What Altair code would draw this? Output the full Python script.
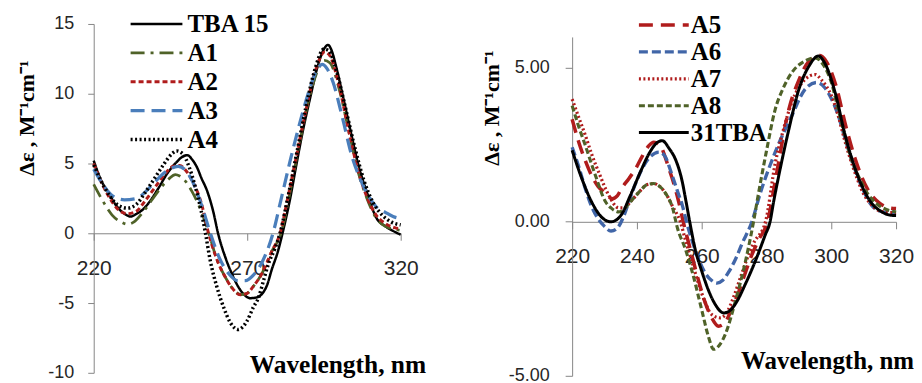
import altair as alt
import pandas as pd

# ---------------- Left panel data (TBA 15 series) ----------------
L_TBA15_WL = [220, 222, 225, 228, 230, 232, 234, 236, 238, 241, 244, 247, 249, 250.5, 252, 253.7, 255, 257, 259, 260.5,
              263, 265, 267, 269, 271, 273, 275, 276.5, 278, 280, 281.5, 284, 286, 288, 290.5, 293, 295, 296.3, 297.5,
              298.9, 301.3, 303.7, 306.2, 308.9, 312.1, 315, 317.5, 320]
L_TBA15_V = [5.2, 4.0, 2.8, 1.8, 1.4, 1.2, 1.4, 1.7, 2.2, 3.2, 4.3, 5.1, 5.5, 5.6, 5.3, 4.7, 4.0, 3.0, 1.5, 0.0,
             -1.8, -2.9, -3.8, -4.4, -4.65, -4.6, -4.3, -3.7, -2.6, -1.3, 0.0, 2.5, 4.9, 7.2, 9.7, 12.0, 13.2, 13.5, 13.1,
             12.0, 9.7, 7.3, 4.9, 3.0, 1.1, 0.5, 0.17, -0.1]

L_A1_WL = [220, 223, 226, 229, 231, 233, 236, 239, 242, 244.5, 246.6, 248, 250, 252, 255, 257.5, 260, 263, 265, 268,
           270, 272, 275, 278, 281, 284, 287, 290, 293, 295, 297, 300, 303, 306, 309, 312, 315, 318, 320]
L_A1_V = [3.5, 2.3, 1.3, 0.8, 0.65, 0.8, 1.5, 2.4, 3.3, 3.9, 4.2, 4.1, 3.7, 3.0, 1.6, 0.0, -1.8, -3.2, -3.9, -4.4,
          -4.3, -3.8, -2.8, -1.3, 0.0, 3.0, 6.4, 9.5, 11.7, 12.4, 12.2, 10.3, 7.4, 4.5, 2.5, 1.1, 0.5, 0.3, 0.2]

L_A2_WL = [220, 222, 225, 228, 231, 234, 237, 240, 243, 246, 248, 250, 252, 255, 257.4, 260, 263, 265, 267.7, 270,
           272, 275, 278, 280.7, 283, 286, 289, 292, 295.3, 297, 300, 303, 306, 309, 312, 315, 318, 320]
L_A2_V = [5.0, 3.9, 2.6, 1.7, 1.4, 1.6, 2.4, 3.3, 4.2, 4.8, 4.85, 4.5, 3.8, 2.2, 0.0, -1.8, -3.2, -3.9, -4.4, -4.3,
          -3.8, -2.8, -1.3, 0.0, 2.3, 5.5, 8.7, 11.5, 13.0, 12.7, 10.5, 7.4, 4.6, 2.6, 1.3, 0.7, 0.4, 0.3]

L_A3_WL = [220, 223, 226, 230, 234, 237, 240, 244, 247.5, 250, 252, 255, 258, 261, 264, 267, 269.4, 272, 275, 278.4,
           281, 284, 287, 290, 292.5, 294.4, 296, 298, 301, 304, 307, 310, 312, 315, 317.5, 320]
L_A3_V = [4.6, 3.5, 2.7, 2.4, 2.5, 3.0, 3.7, 4.5, 4.8, 4.5, 3.8, 2.1, 0.0, -1.8, -2.9, -3.4, -3.4, -3.0, -2.0, 0.0,
          2.4, 5.2, 7.8, 10.1, 11.6, 12.1, 11.8, 10.8, 8.3, 5.6, 3.8, 2.5, 1.9, 1.5, 1.2, 1.05]

L_A4_WL = [220, 224, 228, 231, 234, 237, 240, 243, 245.5, 247, 249, 251, 253, 255, 256.4, 258, 260.2, 262.3, 264.5, 267,
           269.9, 272, 273.7, 275.3, 276.9, 279.1, 280.7, 283, 286, 289, 292, 295, 296.5, 299, 302, 305, 308, 311, 314,
           317, 320]
L_A4_V = [4.9, 3.1, 2.0, 1.8, 2.1, 3.0, 4.0, 5.0, 5.7, 5.9, 5.7, 4.8, 3.4, 1.6, 0.0, -2.0, -3.9, -5.3, -6.4, -6.9,
          -6.3, -5.3, -4.6, -3.4, -2.2, -1.05, 0.0, 2.3, 5.6, 8.9, 11.7, 13.2, 13.1, 11.7, 9.0, 6.2, 3.8, 2.2, 1.3,
          0.8, 0.6]

# ---------------- Right panel data (31TBA series) ----------------
R_A5_WL = [220, 222, 224, 226, 228, 230, 232.4, 234, 235.2, 237.5, 239.6, 241.5, 243.7, 245.2, 247, 249.9, 251.5, 252.9,
           254.3, 257, 259, 261, 263, 265.2, 267, 269, 271, 273, 275, 277.5, 280.3, 283, 286.9, 290, 293, 296.5, 298.5,
           301.5, 304.5, 307.5, 311, 315, 318, 320]
R_A5_V = [3.33, 2.6, 2.0, 1.5, 1.15, 0.95, 0.75, 0.85, 1.07, 1.4, 1.72, 2.1, 2.47, 2.58, 2.5, 1.72, 1.2, 0.65,
          0.0, -1.1, -1.9, -2.6, -3.1, -3.39, -3.3, -2.9, -2.4, -1.8, -1.2, -0.6, 0.0, 1.5, 3.65, 4.6, 5.2, 5.4, 5.2,
          4.4, 3.1, 2.0, 1.1, 0.6, 0.45, 0.43]

R_A6_WL = [220, 222, 224, 226, 228, 230, 232, 234, 236, 238, 240, 242, 244, 246.8, 248.5, 250.9, 252.5, 254, 255.3,
           257, 259, 261, 263, 264.7, 266.5, 268.5, 270.5, 272.5, 275.5, 278, 282.7, 287.8, 291.9, 295.5, 298, 300,
           302, 304, 306, 308, 310, 312, 315, 318, 320]
R_A6_V = [2.42, 1.8, 1.1, 0.5, 0.1, -0.15, -0.3, -0.2, 0.2, 0.8, 1.35, 1.8, 2.1, 2.26, 2.15, 1.5, 1.0, 0.54, 0.0,
          -0.6, -1.2, -1.65, -1.9, -1.99, -1.9, -1.6, -1.2, -0.7, 0.0, 0.9, 2.26, 3.44, 4.3, 4.52, 4.35, 4.0,
          3.5, 2.8, 2.1, 1.5, 1.0, 0.6, 0.35, 0.3, 0.3]

R_A7_WL = [220, 222, 224.1, 226, 228.2, 231.3, 234.4, 236, 238, 241, 243, 245.2, 247, 249, 251, 253.4, 255, 257, 259,
           261, 263, 265.8, 268, 270, 272, 274, 276, 279.7, 282.7, 285, 287.8, 291.9, 295, 297, 300, 302, 304, 306,
           308, 310, 312, 315, 318, 320]
R_A7_V = [3.98, 3.4, 2.8, 2.2, 1.61, 0.86, 0.45, 0.45, 0.65, 1.0, 1.2, 1.24, 1.15, 0.9, 0.5, 0.0, -0.6, -1.3, -2.0,
          -2.6, -3.0, -3.12, -2.9, -2.4, -1.8, -1.2, -0.7, 0.0, 1.9, 2.9, 3.87, 4.62, 4.78, 4.6, 4.1, 3.5, 2.7, 2.0,
          1.4, 0.9, 0.6, 0.35, 0.3, 0.3]

R_A8_WL = [220, 222, 224.1, 227.2, 230.3, 232, 234.4, 236, 238, 241, 243, 245.2, 247, 249, 251, 252.5, 255, 257,
           260.1, 262, 263.7, 265.5, 267.3, 270.4, 273.5, 276, 277.5, 280, 282.7, 285, 287.8, 291.9, 295, 297.5,
           300.1, 302, 304.2, 306, 308.3, 311, 314.5, 317, 320]
R_A8_V = [3.77, 3.1, 2.47, 1.5, 0.65, 0.45, 0.32, 0.4, 0.65, 1.0, 1.2, 1.24, 1.15, 0.9, 0.45, -0.2, -0.9, -1.6,
          -2.9, -3.7, -4.14, -4.0, -3.65, -2.58, -1.29, 0.0, 0.9, 2.3, 3.65, 4.3, 4.84, 5.22, 5.32, 5.1,
          4.5, 3.7, 2.8, 2.1, 1.5, 0.95, 0.54, 0.4, 0.32]

R_TBA31_WL = [220, 223, 226, 229, 232, 235, 238, 241, 244, 246, 247.8, 250, 252, 254, 255, 256.3, 258, 260, 262, 264,
              266.8, 268.5, 270.9, 273.4, 276.5, 279.6, 281.1, 282.2, 283.8, 286.9, 290, 293.1, 296, 298, 301.2,
              304.3, 307.4, 311.5, 315.6, 318, 320]
R_TBA31_V = [2.32, 1.4, 0.65, 0.16, 0.0, 0.2, 0.86, 1.6, 2.26, 2.55, 2.63, 2.37, 2.0, 1.3, 0.75, 0.0, -0.9, -1.6,
             -2.2, -2.65, -2.96, -2.9, -2.58, -2.04, -1.29, -0.43, 0.0, 0.65, 1.5, 3.0, 4.3, 5.05, 5.38, 5.15, 4.19,
             2.8, 1.72, 0.75, 0.32, 0.22, 0.2]

LEFT_NAMES = ["TBA 15", "A1", "A2", "A3", "A4"]
LEFT_COLORS = ["#000000", "#4F6228", "#B01C1C", "#4A7EBB", "#000000"]
LEFT_DASH = [[1, 0], [14, 6, 3, 6], [5, 3], [14, 7], [2, 2.5]]
LEFT_WIDTH = [2.5, 3.5, 2.5, 2.5, 2.5]

RIGHT_NAMES = ["A5", "A6", "A7", "A8", "31TBA"]
RIGHT_COLORS = ["#B01C1C", "#4166A8", "#B01C1C", "#4F6228", "#000000"]
RIGHT_DASH = [[14, 8], [9, 4], [2, 2.5], [6, 3], [1, 0]]
RIGHT_WIDTH = [3.5, 3, 2, 2, 3]

LEFT_Y_TICKS = [-10, -5, 0, 5, 10, 15]
LEFT_X_TICKS = [220, 270, 320]
RIGHT_Y_TICKS = [-5, 0, 5]
RIGHT_X_TICKS = [220, 240, 260, 280, 300, 320]


def frame(items):
    rows = []
    for name, wls, vals in items:
        for a, b in zip(wls, vals):
            rows.append({"series": name, "wl": a, "v": b})
    return pd.DataFrame(rows)


left_df = frame([("TBA 15", L_TBA15_WL, L_TBA15_V), ("A1", L_A1_WL, L_A1_V), ("A2", L_A2_WL, L_A2_V),
                 ("A3", L_A3_WL, L_A3_V), ("A4", L_A4_WL, L_A4_V)])
right_df = frame([("A5", R_A5_WL, R_A5_V), ("A6", R_A6_WL, R_A6_V), ("A7", R_A7_WL, R_A7_V),
                  ("A8", R_A8_WL, R_A8_V), ("31TBA", R_TBA31_WL, R_TBA31_V)])

AXIS_GRAY = "#868686"
LABEL_COLOR = "#262626"
YTITLE = "Δε , M⁻¹cm⁻¹"


def legend(x, y, size, offset, rowpad):
    return alt.Legend(title=None, orient="none", legendX=x, legendY=y, symbolType="M-5,0H5",
                      symbolSize=size, symbolFillColor="transparent", labelFont="Liberation Serif",
                      labelFontWeight="bold", labelFontSize=25, labelColor="#000000", labelOffset=offset,
                      rowPadding=rowpad, padding=0, labelLimit=0)


def panel(df, names, colors, dashes, widths, w, h, yscale, yticks, ylab_expr, xticks, xoffset,
          ytx, yty, ytick, ypad, xtx, xty, xalign, xtsize, leg):
    return alt.Chart(df).mark_line(interpolate="monotone").encode(
        x=alt.X("wl:Q", scale=alt.Scale(domain=[220, 320], nice=False, zero=False),
                axis=alt.Axis(values=xticks, title="Wavelength, nm", offset=xoffset, grid=False,
                              labelFlush=False, labelFont="Liberation Sans", labelFontSize=21,
                              labelColor=LABEL_COLOR, labelPadding=17, tickSize=7,
                              tickColor=AXIS_GRAY, domainColor=AXIS_GRAY,
                              titleFont="Liberation Serif", titleFontWeight="bold", titleFontSize=xtsize,
                              titleColor="#000000", titleX=xtx, titleY=xty, titleAlign=xalign,
                              titleBaseline="alphabetic")),
        y=alt.Y("v:Q", scale=yscale,
                axis=alt.Axis(values=yticks, title=YTITLE, grid=False, labelExpr=ylab_expr,
                              labelFont="Liberation Sans", labelFontSize=18, labelColor=LABEL_COLOR,
                              labelPadding=ypad, tickSize=ytick, tickColor=AXIS_GRAY,
                              domainColor=AXIS_GRAY, titleFont="Liberation Serif",
                              titleFontWeight="bold", titleFontSize=22, titleColor="#000000",
                              titleX=ytx, titleY=yty, titleAngle=270, titleAlign="center",
                              titleBaseline="middle")),
        color=alt.Color("series:N", scale=alt.Scale(domain=names, range=colors), legend=leg),
        strokeDash=alt.StrokeDash("series:N", scale=alt.Scale(domain=names, range=dashes), legend=leg),
        strokeWidth=alt.StrokeWidth("series:N", scale=alt.Scale(domain=names, range=widths), legend=leg),
    ).properties(width=w, height=h)


left = panel(left_df, LEFT_NAMES, LEFT_COLORS, LEFT_DASH, LEFT_WIDTH, 308, 350,
             alt.Scale(domain=[-10, 15], nice=False, zero=False),
             LEFT_Y_TICKS, "datum.value < 0 ? '-' + abs(datum.value) : '' + datum.value",
             LEFT_X_TICKS, -140, -67, 94, 6, 14, 244.5, 140, "center", 25.5,
             legend(50.5, -12.5, 108, 18.5, 3))

right = panel(right_df, RIGHT_NAMES, RIGHT_COLORS, RIGHT_DASH, RIGHT_WIDTH, 325, 353,
              alt.Scale(domain=[-5, 6], range=[353, 13], nice=False, zero=False),
              RIGHT_Y_TICKS,
              "datum.value < 0 ? '-' + format(abs(datum.value), '.2f') : format(datum.value, '.2f')",
              RIGHT_X_TICKS, -154.5, -81, 84, 7, 16, 169, 147.5, "left", 25,
              legend(79.5, -11.5, 100, 14.5, 1))

chart = alt.hconcat(left, right, spacing=172, bounds="flush").resolve_scale(
    color="independent", strokeDash="independent", strokeWidth="independent"
).resolve_legend(
    color="independent", strokeDash="independent", strokeWidth="independent"
).configure_view(stroke=None).properties(
    padding={"left": 8, "top": 2.4, "right": 0, "bottom": 0}
)

chart.save("out.html", embed_options={"renderer": "svg", "actions": False})
